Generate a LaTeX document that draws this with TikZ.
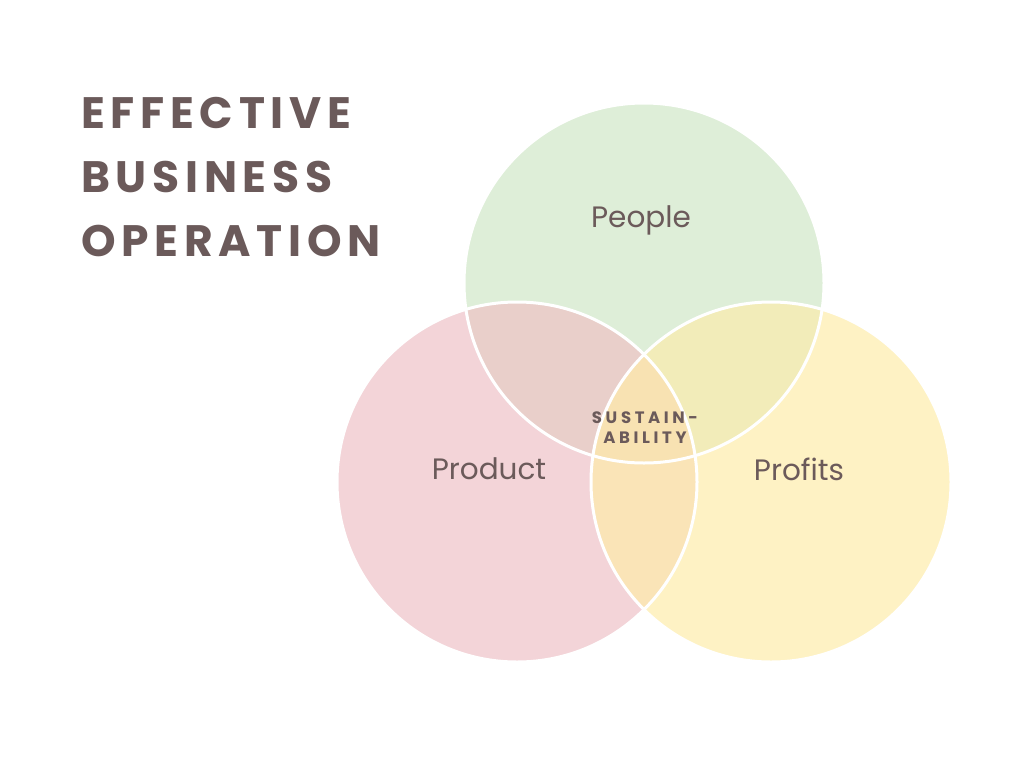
\documentclass[tikz,border=0pt]{standalone}
\usepackage{fontspec}
\setmainfont{Poppins}
\newfontfamily\titlefont[LetterSpace=13]{Poppins}
\newfontfamily\smallfont[LetterSpace=22]{Poppins}
\definecolor{txt}{RGB}{107,90,90}
\definecolor{cpeople}{RGB}{222,238,216}
\definecolor{cproduct}{RGB}{243,212,216}
\definecolor{cprofits}{RGB}{254,242,196}
\definecolor{cpp}{RGB}{233,207,202}
\definecolor{cpf}{RGB}{242,236,185}
\definecolor{cprpf}{RGB}{250,228,183}
\definecolor{ccenter}{RGB}{248,226,178}
\tikzset{
  outline/.style={draw=white,line width=3pt},
  label/.style={text=txt,font=\fontsize{29.5}{32}\selectfont},
  title/.style={text=txt,font=\titlefont\bfseries\fontsize{44}{48}\selectfont,anchor=west,inner sep=0pt},
  small/.style={text=txt,font=\smallfont\bfseries\fontsize{16.5}{18}\selectfont,inner sep=0pt}
}
\begin{document}
\begin{tikzpicture}[x=1pt,y=-1pt]
\useasboundingbox[fill=white] (0,0) rectangle (1024,768);
\coordinate (cA) at (644,283);
\coordinate (cB) at (517,482);
\coordinate (cC) at (771,482);
\fill[cpeople] (cA) circle (180);
\fill[cproduct] (cB) circle (180);
\fill[cprofits] (cC) circle (180);
\begin{scope}
\clip (cA) circle (180);
\fill[cpp] (cB) circle (180);
\fill[cpf] (cC) circle (180);
\end{scope}
\begin{scope}
\clip (cB) circle (180);
\fill[cprpf] (cC) circle (180);
\clip (cC) circle (180);
\fill[ccenter] (cA) circle (180);
\end{scope}
\draw[outline] (cA) circle (180);
\draw[outline] (cB) circle (180);
\draw[outline] (cC) circle (180);
\node[label] (people) at (641,220) {People};
\node[label] (product) at (489,469) {Product};
\node[label] (profits) at (799,469) {Profits};
\node[small] (s1) at (645,418) {SUSTAIN-};
\node[small] (s2) at (645,438) {ABILITY};
\node[title] (t1) at (81,113) {EFFECTIVE};
\node[title] (t2) at (81,177) {BUSINESS};
\node[title] (t3) at (81,241) {OPERATION};
\end{tikzpicture}
\end{document}
